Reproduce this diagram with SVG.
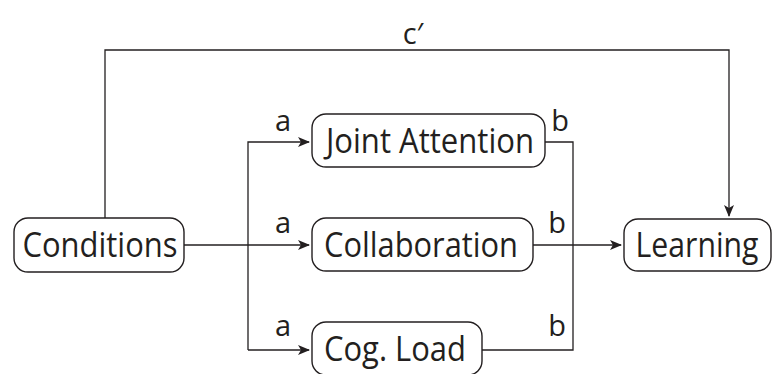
<svg xmlns="http://www.w3.org/2000/svg" width="773" height="374" viewBox="0 0 773 374">
<defs>
<marker id="arr" markerWidth="12" markerHeight="10" refX="11" refY="5" orient="auto" markerUnits="userSpaceOnUse">
<path d="M0,0 L12,5 L0,10 L3,5 Z" fill="#231f20"/>
</marker>
<style>
.box{fill:#fff;stroke:#231f20;stroke-width:1.4}
.lbl{font-family:"Open Sans","Noto Sans",sans-serif;font-size:34px;fill:#231f20;text-anchor:middle}
.sm{font-family:"Open Sans","Noto Sans",sans-serif;font-size:29px;fill:#231f20;text-anchor:middle}
.ln{fill:none;stroke:#231f20;stroke-width:1.3}
</style>
</defs>
<rect width="773" height="374" fill="#fff"/>
<g id="connectors">
<path class="ln" d="M105,218 V50 H729 V216" marker-end="url(#arr)"/>
<path class="ln" d="M184,245 H309" marker-end="url(#arr)"/>
<path class="ln" d="M248,350 V142 H309" marker-end="url(#arr)"/>
<path class="ln" d="M248,350 H309" marker-end="url(#arr)"/>
<path class="ln" d="M545,142 H573 V350 H482"/>
<path class="ln" d="M533,245 H621" marker-end="url(#arr)"/>
</g>
<g id="conditions">
<rect class="box" x="14" y="218" width="170" height="54" rx="14"/>
<text class="lbl" x="100" y="257" textLength="155" lengthAdjust="spacingAndGlyphs">Conditions</text>
</g>
<g id="joint-attention">
<rect class="box" x="312" y="114" width="233" height="53" rx="14"/>
<text class="lbl" x="430" y="153" textLength="208" lengthAdjust="spacingAndGlyphs">Joint Attention</text>
</g>
<g id="collaboration">
<rect class="box" x="312" y="218" width="221" height="53" rx="14"/>
<text class="lbl" x="421" y="257" textLength="194" lengthAdjust="spacingAndGlyphs">Collaboration</text>
</g>
<g id="cog-load">
<rect class="box" x="312" y="322" width="170" height="53" rx="14"/>
<text class="lbl" x="395" y="361" textLength="142" lengthAdjust="spacingAndGlyphs">Cog. Load</text>
</g>
<g id="learning">
<rect class="box" x="624" y="219" width="147" height="52" rx="14"/>
<text class="lbl" x="697" y="257" textLength="123" lengthAdjust="spacingAndGlyphs">Learning</text>
</g>
<g id="labels">
<text class="sm" x="283" y="131">a</text>
<text class="sm" x="560" y="131">b</text>
<text class="sm" x="283" y="233">a</text>
<text class="sm" x="557" y="233">b</text>
<text class="sm" x="283" y="336">a</text>
<text class="sm" x="557" y="336">b</text>
<text class="sm" x="413" y="44">c′</text>
</g>
</svg>
